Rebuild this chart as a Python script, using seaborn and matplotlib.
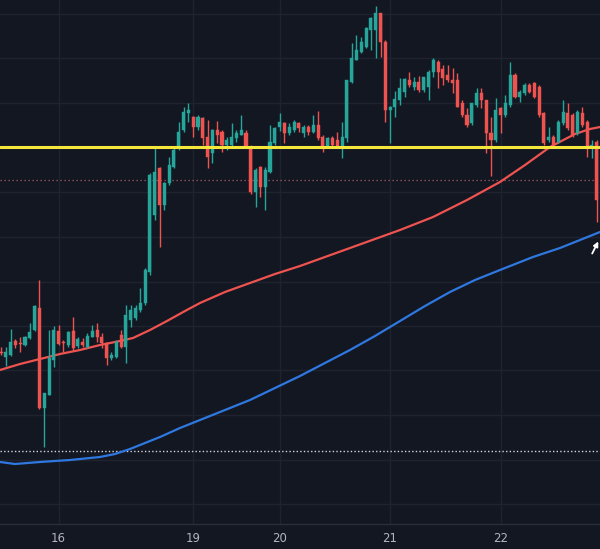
import numpy as np
import pandas as pd
import matplotlib
matplotlib.use("Agg")
import matplotlib.pyplot as plt
import seaborn as sns

# ---------------- data ----------------
opens = [1917.23, 1916.73, 1916.9, 1918.33, 1918.13, 1917.9, 1918.57, 1919.4, 1921.57, 1911.6,
         1912.9, 1916.4, 1919.33, 1918.23, 1917.9, 1919.33, 1917.8, 1918.23, 1917.73, 1918.73,
         1919.4, 1918.73, 1918.07, 1916.57, 1916.73, 1918.9, 1917.73, 1920.4, 1920.57, 1921.4,
         1922.07, 1925.23, 1930.9, 1935.57, 1931.9, 1934.07, 1935.73, 1937.57, 1939.4, 1941.07,
         1940.73, 1939.73, 1940.57, 1938.73, 1937.07, 1939.4, 1939.23, 1937.9, 1937.9, 1938.57,
         1938.9, 1939.07, 1937.73, 1933.23, 1935.65, 1933.73, 1935.23, 1938.07, 1939.73, 1940.07,
         1939.07, 1939.4, 1940.07, 1939.07, 1939.73, 1939.23, 1939.9, 1938.73, 1937.8, 1938.57,
         1938.4, 1937.73, 1938.57, 1944.23, 1946.4, 1947.23, 1947.73, 1949.4, 1949.4, 1951.07,
         1948.23, 1941.4, 1941.65, 1942.4, 1943.2, 1944.4, 1943.65, 1944.23, 1943.4, 1943.73,
         1945.15, 1946.15, 1945.5, 1944.9, 1944.4, 1944.4, 1942.07, 1940.9, 1940.07, 1941.9,
         1943.07, 1942.4, 1939.07, 1938.4, 1941.57, 1940.9, 1941.9, 1944.9, 1942.73, 1943.07,
         1943.9, 1944.07, 1943.73, 1941.07, 1938.4, 1938.73, 1938.23, 1940.07, 1941.07, 1940.9,
         1939.07, 1941.07, 1940.23, 1937.57, 1938.23]
highs = [1917.73, 1917.73, 1919.5, 1918.5, 1918.7, 1918.8, 1920.13, 1921.9, 1924.4, 1913.1,
         1919.4, 1919.8, 1919.9, 1918.4, 1919.33, 1920.7, 1918.7, 1918.6, 1919.1, 1919.9,
         1920.13, 1919.1, 1918.23, 1917.2, 1918.4, 1919.4, 1921.9, 1921.9, 1921.9, 1923.6,
         1925.6, 1935.1, 1937.7, 1935.7, 1934.23, 1936.73, 1937.6, 1940.23, 1941.73, 1942.1,
         1940.8, 1940.9, 1940.73, 1940.4, 1939.47, 1940.33, 1939.4, 1938.73, 1940.07, 1939.4,
         1940.9, 1939.4, 1937.9, 1935.57, 1935.75, 1935.7, 1939.9, 1939.73, 1941.07, 1940.23,
         1940.07, 1940.4, 1940.23, 1939.9, 1939.9, 1940.9, 1941.33, 1938.9, 1938.73, 1938.8,
         1939.23, 1940.23, 1944.4, 1948.07, 1948.9, 1948.73, 1949.73, 1950.73, 1951.8, 1951.13,
         1948.4, 1941.8, 1943.3, 1944.57, 1944.57, 1945.23, 1944.73, 1944.8, 1944.73, 1945.4,
         1946.57, 1946.4, 1945.9, 1945.9, 1945.57, 1945.07, 1942.4, 1941.57, 1942.07, 1943.57,
         1943.57, 1942.4, 1940.73, 1942.57, 1941.73, 1942.9, 1946.23, 1945.07, 1943.4, 1944.07,
         1944.07, 1944.23, 1943.9, 1941.23, 1939.73, 1938.9, 1940.4, 1942.4, 1942.07, 1941.1,
         1941.4, 1941.73, 1940.4, 1938.4, 1938.4]
lows = [1916.9, 1915.8, 1916.8, 1917.6, 1917.23, 1917.8, 1918.5, 1919.33, 1911.5, 1907.73,
        1912.9, 1915.7, 1917.9, 1917.23, 1917.73, 1917.4, 1917.6, 1917.7, 1917.6, 1918.67,
        1918.23, 1917.6, 1915.9, 1916.4, 1916.6, 1917.6, 1916.07, 1919.73, 1920.4, 1921.23,
        1921.9, 1924.9, 1930.4, 1927.73, 1931.4, 1933.9, 1935.6, 1937.4, 1939.23, 1940.23,
        1938.73, 1939.4, 1937.9, 1935.57, 1936.07, 1938.07, 1937.23, 1937.4, 1937.7, 1938.23,
        1938.9, 1937.57, 1933.0, 1931.73, 1932.73, 1931.4, 1935.07, 1937.9, 1939.3, 1938.07,
        1938.9, 1939.23, 1939.23, 1938.73, 1938.9, 1939.07, 1938.4, 1937.23, 1937.6, 1937.57,
        1937.57, 1936.57, 1938.23, 1944.07, 1946.4, 1947.07, 1947.57, 1947.4, 1946.57, 1946.73,
        1940.23, 1938.07, 1940.73, 1941.9, 1942.73, 1943.73, 1943.4, 1943.23, 1943.23, 1942.4,
        1944.73, 1943.57, 1943.9, 1944.23, 1943.07, 1941.73, 1940.73, 1939.73, 1939.9, 1941.73,
        1941.57, 1937.07, 1934.8, 1938.23, 1939.07, 1940.73, 1941.73, 1942.57, 1942.23, 1942.9,
        1943.07, 1942.6, 1940.73, 1937.9, 1938.23, 1937.57, 1938.07, 1939.9, 1939.4, 1938.73,
        1938.9, 1939.73, 1936.73, 1936.57, 1930.2]
closes = [1917.07, 1917.23, 1918.23, 1917.9, 1918.0, 1918.7, 1919.23, 1921.8, 1911.63, 1913.1,
          1916.6, 1919.4, 1918.0, 1918.07, 1919.23, 1917.57, 1918.5, 1917.9, 1918.8, 1919.33,
          1918.73, 1918.07, 1916.57, 1916.9, 1918.23, 1917.73, 1920.9, 1921.4, 1921.57, 1922.1,
          1925.4, 1934.9, 1935.2, 1931.9, 1934.07, 1935.9, 1937.4, 1939.23, 1941.23, 1941.4,
          1939.73, 1940.73, 1938.57, 1936.73, 1939.4, 1938.9, 1937.9, 1938.4, 1938.73, 1939.07,
          1939.4, 1937.73, 1933.15, 1935.4, 1933.65, 1935.4, 1938.23, 1939.57, 1940.23, 1939.07,
          1939.73, 1940.23, 1939.57, 1939.73, 1939.23, 1939.9, 1938.57, 1937.73, 1938.57, 1937.9,
          1937.73, 1938.73, 1944.4, 1946.57, 1947.4, 1948.23, 1949.57, 1950.57, 1951.07, 1948.23,
          1941.4, 1941.73, 1942.5, 1943.57, 1944.45, 1943.9, 1944.23, 1943.4, 1944.73, 1945.23,
          1946.4, 1945.15, 1944.6, 1944.4, 1944.07, 1941.73, 1940.9, 1939.9, 1942.07, 1943.07,
          1942.4, 1939.07, 1938.4, 1941.4, 1940.9, 1942.07, 1944.9, 1942.73, 1943.23, 1943.9,
          1943.23, 1942.73, 1940.9, 1938.07, 1938.73, 1937.9, 1940.23, 1941.23, 1939.57, 1938.9,
          1941.23, 1939.9, 1937.57, 1937.9, 1932.4]

# moving averages (bar index, value)
ma_red_idx = [-0.21, 3.96, 8.12, 12.28, 16.44, 20.61, 24.77, 27.48, 31.02, 34.55, 38.30, 41.42,
              46.63, 51.83, 57.04, 62.24, 72.65, 83.06, 89.93, 97.01, 103.87, 109.08, 114.28,
              119.48, 122.61, 124.69]
ma_red_val = [1915.4, 1916.0, 1916.5, 1917.0, 1917.4, 1917.9, 1918.3, 1918.6, 1919.4, 1920.3,
              1921.3, 1922.1, 1923.2, 1924.1, 1925.0, 1925.8, 1927.6, 1929.4, 1930.7, 1932.4,
              1934.2, 1935.9, 1937.7, 1939.0, 1939.5, 1939.7]
ma_blue_idx = [-0.21, 2.91, 8.12, 14.36, 20.61, 23.73, 26.85, 29.98, 33.10, 37.26, 41.42, 46.63,
               51.83, 57.04, 62.24, 67.44, 72.65, 77.85, 83.06, 88.26, 93.46, 98.67, 103.87,
               110.74, 116.36, 120.53, 124.69]
ma_blue_val = [1906.2, 1906.0, 1906.2, 1906.4, 1906.7, 1907.0, 1907.5, 1908.1, 1908.7, 1909.6,
               1910.4, 1911.4, 1912.4, 1913.6, 1914.8, 1916.1, 1917.4, 1918.8, 1920.3, 1921.8,
               1923.2, 1924.4, 1925.4, 1926.7, 1927.6, 1928.4, 1929.2]

# horizontal levels
yellow_level = 1937.7
pink_dotted_level = 1934.4
white_dotted_level = 1907.3

# time axis
tick_idx = [12, 40, 58, 81, 104]
tick_labels = ["16", "19", "20", "21", "22"]
grid_levels = [1902.0, 1906.4, 1910.9, 1915.4, 1919.8, 1924.2, 1928.7, 1933.2, 1937.6, 1942.1, 1946.6, 1951.0]

# ---------------- styling ----------------
BG = "#131722"
GRID = "#1f2330"
UP = "#26a69a"
DOWN = "#ef5350"

sns.set_style("dark", {"axes.facecolor": BG, "figure.facecolor": BG})
plt.rcParams["font.family"] = ["DejaVu Sans"]

df = pd.DataFrame({"open": opens, "high": highs, "low": lows, "close": closes})
df["idx"] = np.arange(len(df))
df["up"] = df["close"] >= df["open"]
df["color"] = np.where(df["up"], UP, DOWN)
df["body_lo"] = df[["open", "close"]].min(axis=1)
df["body_h"] = (df["close"] - df["open"]).abs().clip(lower=0.1)

fig = plt.figure(figsize=(6.0, 5.49), dpi=100)
fig.patch.set_facecolor(BG)
ax = fig.add_axes([0, 25 / 549, 1, 524 / 549])
ax.set_facecolor(BG)

ax.set_xlim(-0.21, 124.69)
ax.set_ylim(1900.0, 1952.4)

# grid
ax.set_yticks(grid_levels)
ax.set_yticklabels([])
ax.set_xticks(tick_idx)
ax.set_xticklabels(tick_labels)
ax.grid(True, color=GRID, linewidth=1.0)
ax.tick_params(axis="y", length=0)
ax.tick_params(axis="x", length=0, pad=6, colors="#b2b5be", labelsize=8.5)
for s in ["left", "right", "top"]:
    ax.spines[s].set_visible(False)
ax.spines["bottom"].set_color("#2a2e39")
ax.spines["bottom"].set_linewidth(1.0)

# dotted levels
ax.axhline(pink_dotted_level, color="#e0747a", lw=0.9, ls=(0, (1, 2.2)), alpha=0.75, zorder=1)
ax.axhline(white_dotted_level, color="#d1d4dc", lw=1.0, ls=(0, (1, 1.6)), zorder=1)

# moving averages via seaborn
sns.lineplot(x=ma_blue_idx, y=ma_blue_val, ax=ax, color="#2f78e0", lw=1.6, zorder=2)
sns.lineplot(x=ma_red_idx, y=ma_red_val, ax=ax, color="#ef5350", lw=1.6, zorder=2)

# candles
ax.vlines(df["idx"], df["low"], df["high"], colors=df["color"], lw=1.0, zorder=3)
ax.bar(df["idx"], df["body_h"], bottom=df["body_lo"], width=0.64, color=df["color"],
       edgecolor=df["color"], linewidth=0.3, zorder=4)

# yellow level on top
ax.axhline(yellow_level, color="#f5e63c", lw=2.2, zorder=5)

# small white arrow at right
ax.annotate("", xy=(124.6, 1928.5), xytext=(122.8, 1926.8),
            arrowprops=dict(arrowstyle="-|>", color="white", lw=1.3, mutation_scale=7), zorder=6)

fig.savefig("out.png", dpi=100, facecolor=BG)
